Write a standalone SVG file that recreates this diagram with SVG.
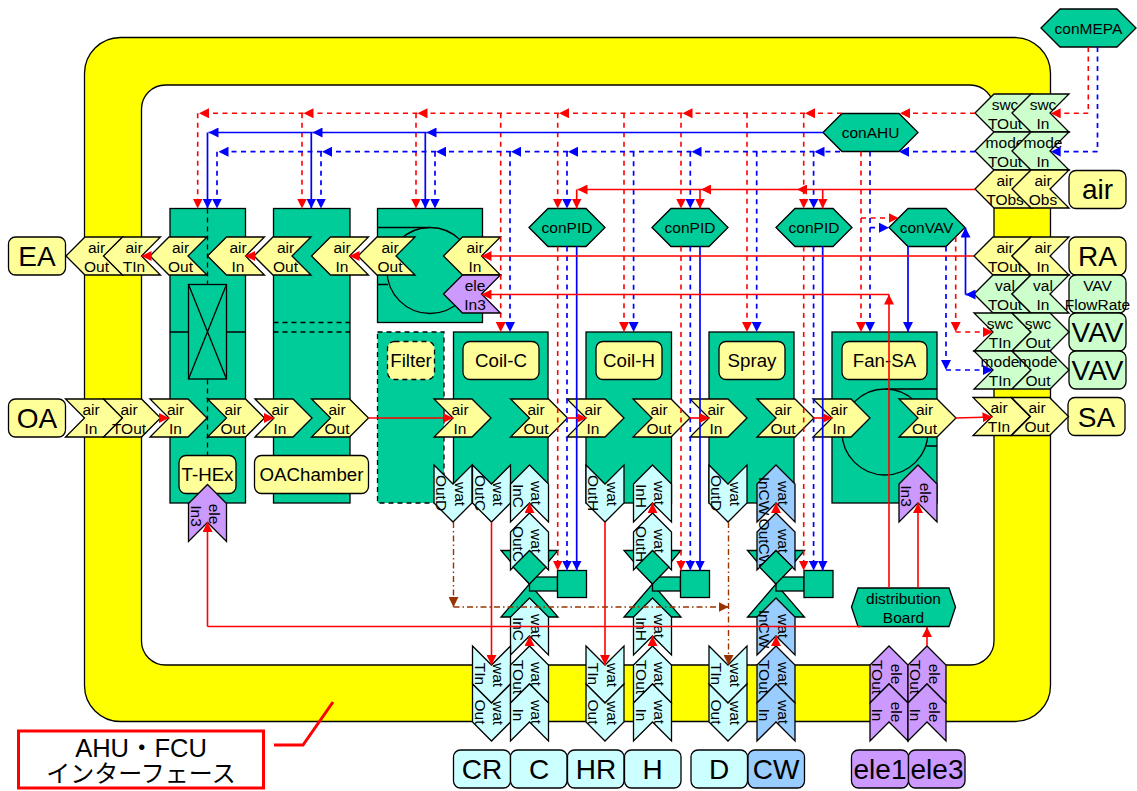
<svg xmlns="http://www.w3.org/2000/svg" width="1137" height="791" viewBox="0 0 1137 791">
<style>
text{font-family:"Liberation Sans","Noto Sans CJK JP",sans-serif;text-anchor:middle;fill:#000;font-size:15.5px}
.m{font-size:18.7px}
.b{font-size:28px}
.n{stroke:#000;stroke-width:1.3}
.g{fill:#00CC99}.y{fill:#FFFF99}.l{fill:#CCFFCC}.c{fill:#CCFFFF}.w{fill:#99CCFF}.p{fill:#CC99FF}
.nf{fill:none;stroke:#000;stroke-width:1.3}
.da{stroke-dasharray:5 4}
.r{stroke:#FF0000;stroke-width:1.6;fill:none}
.bl{stroke:#0000FF;stroke-width:1.7;fill:none}
.d{stroke-dasharray:5 4.5}
.br{stroke:#993300;stroke-width:1.4;fill:none;stroke-dasharray:6 3 1.5 3}
.ra{marker-end:url(#ar)}.ba{marker-end:url(#ab)}.oa{marker-end:url(#ao)}
</style>
<defs>
<marker id="ar" markerUnits="userSpaceOnUse" markerWidth="10" markerHeight="10" refX="10" refY="5" orient="auto"><path d="M0,0L10,5L0,10z" fill="#FF0000"/></marker>
<marker id="ab" markerUnits="userSpaceOnUse" markerWidth="10" markerHeight="10" refX="10" refY="5" orient="auto"><path d="M0,0L10,5L0,10z" fill="#0000FF"/></marker>
<marker id="ao" markerUnits="userSpaceOnUse" markerWidth="10" markerHeight="10" refX="10" refY="5" orient="auto"><path d="M0,0L10,5L0,10z" fill="#993300"/></marker>
<polygon id="pL" points="0,19 19,0 57,0 38,19 57,38 19,38"/>
<polygon id="pR" points="0,0 38,0 57,19 38,38 0,38 19,19"/>
<polygon id="pU" points="19,0 38,19 38,57 19,38 0,57 0,19"/>
<polygon id="pD" points="0,0 19,19 38,0 38,38 19,57 0,38"/>
<polygon id="hex" points="0,19 19,0 57,0 76,19 57,38 19,38"/>
</defs>

<g id="frame">
<rect x="84.5" y="37.5" width="966" height="684" rx="36" fill="#FFFF00" class="n"/>
<rect x="141.5" y="85" width="852.5" height="580" rx="24" fill="#FFF" class="n"/>
</g>

<g id="T-HEx">
<rect x="170" y="208.5" width="75.5" height="294.5" class="g n"/>
<path class="nf" d="M170,332H188.5M226.5,332H245.5"/>
<path class="nf da" d="M207.5,208.5V455"/>
<rect x="188.5" y="284.5" width="38" height="94.5" class="g n"/>
<path class="nf" d="M188.5,284.5L226.5,379M226.5,284.5L188.5,379"/>
<rect x="179" y="455.5" width="57" height="38" rx="7" class="y n"/>
<text class="m" x="207.5" y="481">T-HEx</text>
</g>
<g id="OAChamber">
<rect x="273.5" y="208.5" width="76.5" height="294.5" class="g n"/>
<path class="nf da" d="M273.5,322.5H350M273.5,332H350"/>
<rect x="254.5" y="455.5" width="114" height="38" rx="7" class="y n"/>
<text class="m" x="311.5" y="481">OAChamber</text>
</g>
<g id="Fan-RA">
<rect x="377.5" y="208.5" width="105" height="114" class="g n"/>
<circle cx="430" cy="270.5" r="43" class="g n"/>
<path class="nf" d="M377.5,227.5H430M377.5,284.5H388"/>
</g>
<g id="Filter">
<rect x="377.5" y="332" width="66.5" height="171" class="g n da"/>
<rect x="387.5" y="341.5" width="47" height="38" rx="7" class="y n da"/>
<text class="m" x="411" y="367">Filter</text>
</g>
<g id="Coil-C">
<rect x="453.5" y="332" width="94.5" height="171" class="g n"/>
<rect x="463" y="341.5" width="76" height="38" rx="7" class="y n"/>
<text class="m" x="501" y="367">Coil-C</text>
</g>
<g id="Coil-H">
<rect x="586" y="332" width="85.5" height="171" class="g n"/>
<rect x="596" y="341.5" width="66" height="38" rx="7" class="y n"/>
<text class="m" x="629" y="367">Coil-H</text>
</g>
<g id="Spray">
<rect x="709" y="332" width="85" height="171" class="g n"/>
<rect x="719" y="341.5" width="66" height="38" rx="7" class="y n"/>
<text class="m" x="752" y="367">Spray</text>
</g>
<g id="Fan-SA">
<rect x="832" y="332" width="105" height="171" class="g n"/>
<rect x="842" y="341.5" width="85" height="38" rx="7" class="y n"/>
<text class="m" x="884.5" y="367">Fan-SA</text>
<circle cx="885" cy="432" r="43" class="g n"/>
<path class="nf" d="M885,389H937M925,446H937"/>
</g>

<g id="conPID1"><use href="#hex" x="529" y="208.5" class="g n"/><text x="567" y="233">conPID</text></g>
<g id="conPID2"><use href="#hex" x="652" y="208.5" class="g n"/><text x="690" y="233">conPID</text></g>
<g id="conPID3"><use href="#hex" x="776" y="208.5" class="g n"/><text x="814" y="233">conPID</text></g>
<g id="conVAV"><use href="#hex" x="889" y="208.5" class="g n"/><text x="926.5" y="233">conVAV</text></g>
<g id="conAHU"><polygon points="823,132.5 842,113.5 899,113.5 918,132.5 899,151.5 842,151.5" class="g n"/><text x="870.5" y="138">conAHU</text></g>
<g id="conMEPA"><polygon points="1041,28 1060,9 1117,9 1136,28 1117,47 1060,47" class="g n"/><text x="1088.5" y="34">conMEPA</text></g>
<g id="distributionBoard"><polygon points="851.5,607 858,588 949,588 955.5,607 949,626.5 858,626.5" class="g n"/><text x="903.5" y="604">distribution</text><text x="903.5" y="623">Board</text></g>

<g id="EA"><rect x="8.5" y="237" width="57" height="38" rx="7" class="y n"/><text class="b" x="37" y="266">EA</text></g>
<g id="OA"><rect x="8.5" y="399" width="57" height="38" rx="7" class="y n"/><text class="b" x="37" y="428">OA</text></g>
<g id="SA"><rect x="1068" y="397.5" width="57" height="38" rx="7" class="y n"/><text class="b" x="1096.5" y="426.5">SA</text></g>
<g id="air"><rect x="1069" y="170.5" width="57" height="38" rx="7" class="y n"/><text class="b" x="1097.5" y="199">air</text></g>
<g id="RA"><rect x="1069" y="237" width="57" height="38" rx="7" class="y n"/><text class="b" x="1097.5" y="266">RA</text></g>
<g id="VAVFlowRate"><rect x="1069" y="275" width="57" height="38" rx="7" class="l n"/><text x="1097.5" y="291">VAV</text><text x="1097.5" y="310">FlowRate</text></g>
<g id="VAV1"><rect x="1069" y="313" width="57" height="38" rx="7" class="l n"/><text class="b" x="1097.5" y="342">VAV</text></g>
<g id="VAV2"><rect x="1069" y="351" width="57" height="38" rx="7" class="l n"/><text class="b" x="1097.5" y="380">VAV</text></g>
<g id="CR"><rect x="453.5" y="750" width="57" height="38" rx="7" class="c n"/><text class="b" x="482" y="779">CR</text></g>
<g id="C"><rect x="510.5" y="750" width="56.5" height="38" rx="7" class="c n"/><text class="b" x="539" y="779">C</text></g>
<g id="HR"><rect x="567.5" y="750" width="56.5" height="38" rx="7" class="c n"/><text class="b" x="596" y="779">HR</text></g>
<g id="H"><rect x="624.5" y="750" width="56.5" height="38" rx="7" class="c n"/><text class="b" x="652.5" y="779">H</text></g>
<g id="D"><rect x="691" y="750" width="56.5" height="38" rx="7" class="c n"/><text class="b" x="719" y="779">D</text></g>
<g id="CW"><rect x="748" y="750" width="56.5" height="38" rx="7" class="w n"/><text class="b" x="776" y="779">CW</text></g>
<g id="ele1"><rect x="851.5" y="750" width="57" height="38" rx="7" class="p n"/><text class="b" x="880" y="779">ele1</text></g>
<g id="ele3"><rect x="908.5" y="750" width="56.5" height="38" rx="7" class="p n"/><text class="b" x="937" y="779">ele3</text></g>

<!-- left-pointing ports -->
<g id="ea-air-out"><use href="#pL" x="66" y="237" class="y n"/><text x="96.5" y="253">air</text><text x="96.5" y="272">Out</text></g>
<g id="ea-air-tin"><use href="#pL" x="103.5" y="237" class="y n"/><text x="134" y="253">air</text><text x="134" y="272">TIn</text></g>
<g id="thex-air-out2"><use href="#pL" x="150" y="237" class="y n"/><text x="180.5" y="253">air</text><text x="180.5" y="272">Out</text></g>
<g id="thex-air-in2"><use href="#pL" x="207.5" y="237" class="y n"/><text x="238" y="253">air</text><text x="238" y="272">In</text></g>
<g id="oac-air-out2"><use href="#pL" x="254" y="237" class="y n"/><text x="285.5" y="253">air</text><text x="285.5" y="272">Out</text></g>
<g id="oac-air-in2"><use href="#pL" x="311.5" y="237" class="y n"/><text x="342" y="253">air</text><text x="342" y="272">In</text></g>
<g id="fan-air-out"><use href="#pL" x="358" y="237" class="y n"/><text x="390" y="253">air</text><text x="390" y="272">Out</text></g>
<g id="fan-air-in"><use href="#pL" x="443.5" y="237" class="y n"/><text x="475" y="253">air</text><text x="475" y="272">In</text></g>
<g id="fan-ele-in3"><use href="#pL" x="443.5" y="275" class="p n"/><text x="475" y="291">ele</text><text x="475" y="310">In3</text></g>

<g id="swc-tout"><use href="#pL" x="975" y="94" class="l n"/><text x="1005" y="110">swc</text><text x="1005" y="129">TOut</text></g>
<g id="swc-in"><use href="#pL" x="1012" y="94" class="l n"/><text x="1043" y="110">swc</text><text x="1043" y="129">In</text></g>
<g id="mode-tout"><use href="#pL" x="975" y="132" class="l n"/><text x="1005" y="148">mode</text><text x="1005" y="167">TOut</text></g>
<g id="mode-in"><use href="#pL" x="1012" y="132" class="l n"/><text x="1043" y="148">mode</text><text x="1043" y="167">In</text></g>
<g id="air-tobs"><use href="#pL" x="975" y="170" class="y n"/><text x="1005" y="186">air</text><text x="1005" y="205">TObs</text></g>
<g id="air-obs"><use href="#pL" x="1012" y="170" class="y n"/><text x="1043" y="186">air</text><text x="1043" y="205">Obs</text></g>
<g id="ra-air-tout"><use href="#pL" x="974" y="237" class="y n"/><text x="1005" y="253">air</text><text x="1005" y="272">TOut</text></g>
<g id="ra-air-in"><use href="#pL" x="1012" y="237" class="y n"/><text x="1043" y="253">air</text><text x="1043" y="272">In</text></g>
<g id="val-tout"><use href="#pL" x="974" y="275" class="l n"/><text x="1005" y="291">val</text><text x="1005" y="310">TOut</text></g>
<g id="val-in"><use href="#pL" x="1012" y="275" class="l n"/><text x="1043" y="291">val</text><text x="1043" y="310">In</text></g>

<!-- right-pointing ports -->
<g id="oa-air-in"><use href="#pR" x="65.5" y="399" class="y n"/><text x="91" y="414.5">air</text><text x="91" y="433.5">In</text></g>
<g id="oa-air-tout"><use href="#pR" x="103.5" y="399" class="y n"/><text x="129" y="414.5">air</text><text x="129" y="433.5">TOut</text></g>
<g id="thex-air-in1"><use href="#pR" x="150" y="399" class="y n"/><text x="175.5" y="414.5">air</text><text x="175.5" y="433.5">In</text></g>
<g id="thex-air-out1"><use href="#pR" x="207.5" y="399" class="y n"/><text x="233" y="414.5">air</text><text x="233" y="433.5">Out</text></g>
<g id="oac-air-in1"><use href="#pR" x="255" y="399" class="y n"/><text x="280" y="414.5">air</text><text x="280" y="433.5">In</text></g>
<g id="oac-air-out1"><use href="#pR" x="311.5" y="399" class="y n"/><text x="337" y="414.5">air</text><text x="337" y="433.5">Out</text></g>
<g id="coilc-air-in"><use href="#pR" x="434" y="399" class="y n"/><text x="460" y="414.5">air</text><text x="460" y="433.5">In</text></g>
<g id="coilc-air-out"><use href="#pR" x="510.5" y="399" class="y n"/><text x="536" y="414.5">air</text><text x="536" y="433.5">Out</text></g>
<g id="coilh-air-in"><use href="#pR" x="567" y="399" class="y n"/><text x="593" y="414.5">air</text><text x="593" y="433.5">In</text></g>
<g id="coilh-air-out"><use href="#pR" x="633" y="399" class="y n"/><text x="659" y="414.5">air</text><text x="659" y="433.5">Out</text></g>
<g id="spray-air-in"><use href="#pR" x="690" y="399" class="y n"/><text x="716" y="414.5">air</text><text x="716" y="433.5">In</text></g>
<g id="spray-air-out"><use href="#pR" x="757" y="399" class="y n"/><text x="783" y="414.5">air</text><text x="783" y="433.5">Out</text></g>
<g id="fansa-air-in"><use href="#pR" x="813" y="399" class="y n"/><text x="839" y="414.5">air</text><text x="839" y="433.5">In</text></g>
<g id="fansa-air-out"><use href="#pR" x="899" y="399" class="y n"/><text x="924.5" y="414.5">air</text><text x="924.5" y="433.5">Out</text></g>
<g id="sa-air-tin"><use href="#pR" x="973" y="397.5" class="y n"/><text x="999" y="413">air</text><text x="999" y="432">TIn</text></g>
<g id="sa-air-out"><use href="#pR" x="1011.5" y="397.5" class="y n"/><text x="1037" y="413">air</text><text x="1037" y="432">Out</text></g>
<g id="swc-tin"><use href="#pR" x="974" y="313" class="l n"/><text x="1000" y="329">swc</text><text x="1000" y="348">TIn</text></g>
<g id="swc-out"><use href="#pR" x="1012" y="313" class="l n"/><text x="1038" y="329">swc</text><text x="1038" y="348">Out</text></g>
<g id="mode-tin"><use href="#pR" x="974" y="351" class="l n"/><text x="1000" y="367">mode</text><text x="1000" y="386">TIn</text></g>
<g id="mode-out"><use href="#pR" x="1012" y="351" class="l n"/><text x="1038" y="367">mode</text><text x="1038" y="386">Out</text></g>

<!-- valves: back triangles -->
<g id="valve1-body">
<polygon points="501,550.5 558,550.5 529.5,584 558,617 501,617 529.5,584" class="g n"/>
<rect x="529.5" y="577" width="28" height="14" class="g n"/>
<rect x="557.5" y="570.5" width="29" height="27" class="g n"/>
</g>
<g id="valve2-body">
<polygon points="624,550.5 681,550.5 652.5,584 681,617 624,617 652.5,584" class="g n"/>
<rect x="652.5" y="577" width="28" height="14" class="g n"/>
<rect x="680.5" y="570.5" width="29" height="27" class="g n"/>
</g>
<g id="valve3-body">
<polygon points="747.5,550.5 804.5,550.5 776,584 804.5,617 747.5,617 776,584" class="g n"/>
<rect x="776" y="577" width="28" height="14" class="g n"/>
<rect x="804" y="570.5" width="29" height="27" class="g n"/>
</g>

<!-- vertical ports -->
<g id="filter-wat-outd"><use href="#pD" x="434" y="465" class="c n"/><text transform="translate(454.5,494) rotate(90)">wat</text><text transform="translate(436,493) rotate(90)">OutD</text></g>
<g id="coilc-wat-outc"><use href="#pD" x="472.5" y="465" class="c n"/><text transform="translate(493,494) rotate(90)">wat</text><text transform="translate(474.5,493) rotate(90)">OutC</text></g>
<g id="coilc-wat-inc"><use href="#pU" x="510.5" y="465" class="c n"/><text transform="translate(531,493) rotate(90)">wat</text><text transform="translate(512.5,496) rotate(90)">InC</text></g>
<g id="valve1-wat-outc"><use href="#pU" x="510.5" y="513" class="c n"/><text transform="translate(531,541) rotate(90)">wat</text><text transform="translate(512.5,544) rotate(90)">OutC</text></g>
<g id="valve1-wat-inc"><use href="#pU" x="510.5" y="598" class="c n"/><text transform="translate(531,626) rotate(90)">wat</text><text transform="translate(512.5,629) rotate(90)">InC</text></g>
<g id="coilh-wat-outh"><use href="#pD" x="586" y="465" class="c n"/><text transform="translate(606.5,494) rotate(90)">wat</text><text transform="translate(588,493) rotate(90)">OutH</text></g>
<g id="coilh-wat-inh"><use href="#pU" x="633.5" y="465" class="c n"/><text transform="translate(654,493) rotate(90)">wat</text><text transform="translate(635.5,496) rotate(90)">InH</text></g>
<g id="valve2-wat-outh"><use href="#pU" x="633.5" y="513" class="c n"/><text transform="translate(654,541) rotate(90)">wat</text><text transform="translate(635.5,544) rotate(90)">OutH</text></g>
<g id="valve2-wat-inh"><use href="#pU" x="633.5" y="598" class="c n"/><text transform="translate(654,626) rotate(90)">wat</text><text transform="translate(635.5,629) rotate(90)">InH</text></g>
<g id="spray-wat-outd"><use href="#pD" x="709" y="465" class="c n"/><text transform="translate(729.5,494) rotate(90)">wat</text><text transform="translate(711,493) rotate(90)">OutD</text></g>
<g id="spray-wat-incw"><use href="#pU" x="757" y="465" class="w n"/><text transform="translate(777.5,493) rotate(90)">wat</text><text transform="translate(759,496) rotate(90)">InCW</text></g>
<g id="valve3-wat-outcw"><use href="#pU" x="757" y="513" class="w n"/><text transform="translate(777.5,541) rotate(90)">wat</text><text transform="translate(759,544) rotate(90)">OutCW</text></g>
<g id="valve3-wat-incw"><use href="#pU" x="757" y="598" class="w n"/><text transform="translate(777.5,626) rotate(90)">wat</text><text transform="translate(759,629) rotate(90)">InCW</text></g>
<g id="fansa-ele-in3"><use href="#pU" x="899" y="465" class="p n"/><text transform="translate(919.5,493) rotate(90)">ele</text><text transform="translate(901,496) rotate(90)">In3</text></g>
<g id="thex-ele-in3"><use href="#pU" x="188.5" y="484.5" class="p n"/><text transform="translate(209,514) rotate(90)">ele</text><text transform="translate(190.5,516) rotate(90)">In3</text></g>

<g id="cr-wat-tin"><use href="#pD" x="472.5" y="646" class="c n"/><text transform="translate(493,675) rotate(90)">wat</text><text transform="translate(474.5,674) rotate(90)">TIn</text></g>
<g id="cr-wat-out"><use href="#pD" x="472.5" y="684" class="c n"/><text transform="translate(493,713) rotate(90)">wat</text><text transform="translate(474.5,712) rotate(90)">Out</text></g>
<g id="c-wat-tout"><use href="#pU" x="510.5" y="646" class="c n"/><text transform="translate(531,674) rotate(90)">wat</text><text transform="translate(512.5,677) rotate(90)">TOut</text></g>
<g id="c-wat-in"><use href="#pU" x="510.5" y="684" class="c n"/><text transform="translate(531,712) rotate(90)">wat</text><text transform="translate(512.5,715) rotate(90)">In</text></g>
<g id="hr-wat-tin"><use href="#pD" x="586" y="646" class="c n"/><text transform="translate(606.5,675) rotate(90)">wat</text><text transform="translate(588,674) rotate(90)">TIn</text></g>
<g id="hr-wat-out"><use href="#pD" x="586" y="684" class="c n"/><text transform="translate(606.5,713) rotate(90)">wat</text><text transform="translate(588,712) rotate(90)">Out</text></g>
<g id="h-wat-tout"><use href="#pU" x="633.5" y="646" class="c n"/><text transform="translate(654,674) rotate(90)">wat</text><text transform="translate(635.5,677) rotate(90)">TOut</text></g>
<g id="h-wat-in"><use href="#pU" x="633.5" y="684" class="c n"/><text transform="translate(654,712) rotate(90)">wat</text><text transform="translate(635.5,715) rotate(90)">In</text></g>
<g id="d-wat-tin"><use href="#pD" x="709" y="646" class="c n"/><text transform="translate(729.5,675) rotate(90)">wat</text><text transform="translate(711,674) rotate(90)">TIn</text></g>
<g id="d-wat-out"><use href="#pD" x="709" y="684" class="c n"/><text transform="translate(729.5,713) rotate(90)">wat</text><text transform="translate(711,712) rotate(90)">Out</text></g>
<g id="cw-wat-tout"><use href="#pU" x="757" y="646" class="w n"/><text transform="translate(777.5,674) rotate(90)">wat</text><text transform="translate(759,677) rotate(90)">TOut</text></g>
<g id="cw-wat-in"><use href="#pU" x="757" y="684" class="w n"/><text transform="translate(777.5,712) rotate(90)">wat</text><text transform="translate(759,715) rotate(90)">In</text></g>
<g id="ele1-tout"><use href="#pU" x="870" y="646" class="p n"/><text transform="translate(890.5,674) rotate(90)">ele</text><text transform="translate(872,677) rotate(90)">TOut</text></g>
<g id="ele3-tout"><use href="#pU" x="908" y="646" class="p n"/><text transform="translate(928.5,674) rotate(90)">ele</text><text transform="translate(910,677) rotate(90)">TOut</text></g>
<g id="ele1-in"><use href="#pU" x="870" y="684" class="p n"/><text transform="translate(890.5,712) rotate(90)">ele</text><text transform="translate(872,715) rotate(90)">In</text></g>
<g id="ele3-in"><use href="#pU" x="908" y="684" class="p n"/><text transform="translate(928.5,712) rotate(90)">ele</text><text transform="translate(910,715) rotate(90)">In</text></g>

<!-- valve front diamonds -->
<g id="valve1-top"><polygon points="529.5,550.5 546,567 529.5,584 513,567" class="g n"/></g>
<g id="valve2-top"><polygon points="652.5,550.5 669,567 652.5,584 636,567" class="g n"/></g>
<g id="valve3-top"><polygon points="776,550.5 792.5,567 776,584 759.5,567" class="g n"/></g>

<g id="connectors">
<g id="red-dashed">
<line x1="975" y1="113.3" x2="900" y2="113.3" class="r d ra"/>
<line x1="842" y1="113.3" x2="805" y2="113.3" class="r d ra"/>
<line x1="805" y1="113.3" x2="682.5" y2="113.3" class="r d ra"/>
<line x1="682.5" y1="113.3" x2="559" y2="113.3" class="r d ra"/>
<line x1="559" y1="113.3" x2="417.5" y2="113.3" class="r d ra"/>
<line x1="417.5" y1="113.3" x2="303.5" y2="113.3" class="r d ra"/>
<line x1="303.5" y1="113.3" x2="199" y2="113.3" class="r d ra"/>
<line x1="197.7" y1="113.3" x2="197.7" y2="208.5" class="r d ra"/>
<line x1="302" y1="113.3" x2="302" y2="208.5" class="r d ra"/>
<line x1="416" y1="113.3" x2="416" y2="208.5" class="r d ra"/>
<line x1="500.7" y1="113.3" x2="500.7" y2="332" class="r d ra"/>
<line x1="624" y1="113.3" x2="624" y2="332" class="r d ra"/>
<line x1="747" y1="113.3" x2="747" y2="332" class="r d ra"/>
<line x1="557.7" y1="113.3" x2="557.7" y2="208.5" class="r d ra"/>
<line x1="681" y1="113.3" x2="681" y2="208.5" class="r d ra"/>
<line x1="803.7" y1="113.3" x2="803.7" y2="208.5" class="r d ra"/>
<line x1="557.7" y1="246.5" x2="557.7" y2="570.5" class="r d ra"/>
<line x1="681" y1="246.5" x2="681" y2="570.5" class="r d ra"/>
<line x1="803.7" y1="246.5" x2="803.7" y2="570.5" class="r d ra"/>
<line x1="861" y1="151.5" x2="861" y2="332" class="r d ra"/>
<path d="M861,218H898.5" class="r d ra"/>
<path d="M955.7,237V332" class="r d ra"/>
<path d="M955.7,332H993" class="r d ra"/>
<path d="M1088.3,47V113.3" class="r d"/>
<path d="M1088.3,113.3H1050.7" class="r d ra"/>
</g>
<g id="blue-dashed">
<line x1="975" y1="151.7" x2="899" y2="151.7" class="bl d ba"/>
<line x1="840" y1="151.7" x2="814.5" y2="151.7" class="bl d ba"/>
<line x1="814.5" y1="151.7" x2="691.5" y2="151.7" class="bl d ba"/>
<line x1="691.5" y1="151.7" x2="568" y2="151.7" class="bl d ba"/>
<line x1="568" y1="151.7" x2="511" y2="151.7" class="bl d ba"/>
<line x1="511" y1="151.7" x2="436" y2="151.7" class="bl d ba"/>
<line x1="436" y1="151.7" x2="322" y2="151.7" class="bl d ba"/>
<line x1="322" y1="151.7" x2="218.5" y2="151.7" class="bl d ba"/>
<line x1="217" y1="151.7" x2="217" y2="208.5" class="bl d ba"/>
<line x1="321" y1="151.7" x2="321" y2="208.5" class="bl d ba"/>
<line x1="435" y1="151.7" x2="435" y2="208.5" class="bl d ba"/>
<line x1="510" y1="151.7" x2="510" y2="332" class="bl d ba"/>
<line x1="633.6" y1="151.7" x2="633.6" y2="332" class="bl d ba"/>
<line x1="756.7" y1="151.7" x2="756.7" y2="332" class="bl d ba"/>
<line x1="567" y1="151.7" x2="567" y2="208.5" class="bl d ba"/>
<line x1="690.3" y1="151.7" x2="690.3" y2="208.5" class="bl d ba"/>
<line x1="813.6" y1="151.7" x2="813.6" y2="208.5" class="bl d ba"/>
<line x1="567" y1="246.5" x2="567" y2="570.5" class="bl d ba"/>
<line x1="690.3" y1="246.5" x2="690.3" y2="570.5" class="bl d ba"/>
<line x1="813.6" y1="246.5" x2="813.6" y2="570.5" class="bl d ba"/>
<line x1="870" y1="151.5" x2="870" y2="332" class="bl d ba"/>
<path d="M870,227.7H889" class="bl d ba"/>
<path d="M946,246.5V370" class="bl d ba"/>
<path d="M946,370H993" class="bl d ba"/>
<path d="M1097.5,47V151.7" class="bl d"/>
<path d="M1097.5,151.7H1050.7" class="bl d ba"/>
</g>
<g id="blue-solid">
<line x1="823" y1="132.5" x2="426.5" y2="132.5" class="bl ba"/>
<line x1="426.5" y1="132.5" x2="312.5" y2="132.5" class="bl ba"/>
<line x1="312.5" y1="132.5" x2="208.5" y2="132.5" class="bl ba"/>
<line x1="207.5" y1="132.5" x2="207.5" y2="208.5" class="bl ba"/>
<line x1="311.3" y1="132.5" x2="311.3" y2="208.5" class="bl ba"/>
<line x1="425.3" y1="132.5" x2="425.3" y2="208.5" class="bl ba"/>
<line x1="576.7" y1="246.5" x2="576.7" y2="570.5" class="bl ba"/>
<line x1="700" y1="246.5" x2="700" y2="570.5" class="bl ba"/>
<line x1="822.7" y1="246.5" x2="822.7" y2="570.5" class="bl ba"/>
<line x1="908" y1="246.5" x2="908" y2="332" class="bl ba"/>
<path d="M974,294.5H965.5" class="bl ba"/>
<path d="M965.5,294.5V227.5" class="bl ba"/>
</g>
<g id="red-solid">
<line x1="975" y1="189.5" x2="797" y2="189.5" class="r ra"/>
<line x1="797" y1="189.5" x2="701" y2="189.5" class="r ra"/>
<line x1="701" y1="189.5" x2="577.5" y2="189.5" class="r ra"/>
<line x1="576.7" y1="189.5" x2="576.7" y2="208.5" class="r ra"/>
<line x1="700" y1="189.5" x2="700" y2="208.5" class="r ra"/>
<line x1="822.7" y1="189.5" x2="822.7" y2="208.5" class="r ra"/>
<path d="M974,256H481.5" class="r ra"/>
<path d="M889,588V294.5" class="r ra"/>
<path d="M889,294.5H481.5" class="r ra"/>
<path d="M918,588V503" class="r ra"/>
<path d="M927,646V627" class="r ra"/>
<path d="M861,626.5H207.5" class="r"/>
<path d="M207.5,626.5V522" class="r ra"/>
<path d="M491.5,522V665" class="r ra"/>
<path d="M605,522V665" class="r ra"/>
<path d="M529.5,513V503" class="r ra"/>
<path d="M652.5,513V503" class="r ra"/>
<path d="M776,513V503" class="r ra"/>
<path d="M529.5,646V636" class="r ra"/>
<path d="M652.5,646V636" class="r ra"/>
<path d="M776,646V636" class="r ra"/>
<path d="M368.5,418H453" class="r ra"/>
<path d="M160,418H169" class="r ra"/>
<path d="M264,418H274" class="r ra"/>
<path d="M567,418H586.5" class="r ra"/>
<path d="M690,418H709.5" class="r ra"/>
<path d="M813.5,418H832.5" class="r ra"/>
<path d="M955.5,418L992.5,417" class="r ra"/>
<path d="M151,256H141.5" class="r ra"/>
<path d="M255,256H245" class="r ra"/>
<path d="M359,256H349.5" class="r ra"/>
</g>
<g id="brown">
<path d="M453.5,522V607" class="br oa"/>
<path d="M453.5,607H728.5" class="br oa"/>
<path d="M728.5,522V665" class="br oa"/>
</g>
</g>

<g id="callout">
<rect x="18.5" y="731" width="245" height="57" fill="#FFF" stroke="#FF0000" stroke-width="3"/>
<text style="font-size:25.5px" x="141" y="756.5">AHU・FCU</text>
<text style="font-size:24px" x="141" y="782">インターフェース</text>
<path d="M274,745H303L333,702" fill="none" stroke="#FF0000" stroke-width="3"/>
</g>
</svg>
